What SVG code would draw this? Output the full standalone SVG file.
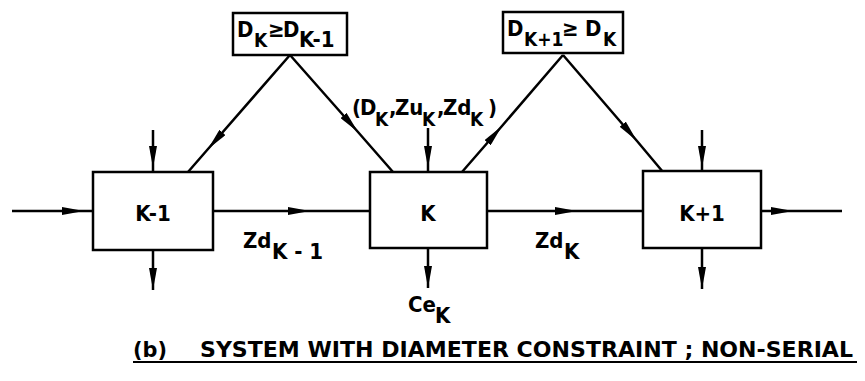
<svg xmlns="http://www.w3.org/2000/svg" width="865" height="381" viewBox="0 0 865 381">
<style>
.box{fill:#fff;stroke:#000;stroke-width:2.5}
.ln{fill:none;stroke:#000;stroke-width:2.5}
.t{font-family:"DejaVu Sans Condensed","DejaVu Sans","Liberation Sans",sans-serif;font-weight:bold;fill:#000;font-size:22px}
.s{font-size:19px}
.mid{marker-mid:url(#ah)}
.end{marker-end:url(#ah)}
</style>
<defs>
<marker id="ah" markerUnits="userSpaceOnUse" viewBox="0 0 22 8" refX="22" refY="4" markerWidth="22" markerHeight="8" orient="auto">
<path d="M0,0 L22,4 L0,8 z" fill="#000"/>
</marker>
</defs>
<rect width="865" height="381" fill="#fff"/>
<g id="connectors">
<path class="ln mid" d="M12,211 L84,211 L93,211"/>
<path class="ln mid" d="M213,211 L310,211 L370,211"/>
<path class="ln mid" d="M487,211 L577,211 L643,211"/>
<path class="ln mid" d="M761,211 L793,211 L842,211"/>
<path class="ln mid" d="M153,130 L153,168 L153,172"/>
<path class="ln mid" d="M428,128 L428,168 L428,172"/>
<path class="ln mid" d="M702,130 L702,168 L702,171"/>
<path class="ln end" d="M153,250 L153,290"/>
<path class="ln end" d="M428,248 L428,288"/>
<path class="ln end" d="M702,248 L702,289"/>
<path class="ln mid" d="M290,55 L208,149 L188,172"/>
<path class="ln mid" d="M290,55 L358,132 L393,172"/>
<path class="ln mid" d="M462,172 L502,126 L563,55"/>
<path class="ln mid" d="M563,55 L637,141 L663,172"/>
</g>
<g id="c1">
<rect class="box" x="233" y="13" width="114" height="42"/>
<text class="t"><tspan x="237" y="37">D</tspan><tspan class="s" x="254" y="47">K</tspan><tspan x="268" y="37">≥</tspan><tspan x="283" y="37">D</tspan><tspan x="299" y="47">K-1</tspan></text>
</g>
<g id="c2">
<rect class="box" x="503" y="12" width="120" height="41"/>
<text class="t"><tspan x="507" y="36">D</tspan><tspan class="s" x="524" y="46">K+1</tspan><tspan x="562" y="36">≥</tspan><tspan x="585" y="36">D</tspan><tspan class="s" x="603" y="46">K</tspan></text>
</g>
<g id="n1">
<rect class="box" x="93" y="172" width="120" height="78"/>
<text class="t" x="153" y="221" font-size="23" text-anchor="middle">K-1</text>
</g>
<g id="n2">
<rect class="box" x="370" y="172" width="117" height="76"/>
<text class="t" x="428" y="221" font-size="23" text-anchor="middle">K</text>
</g>
<g id="n3">
<rect class="box" x="643" y="171" width="118" height="77"/>
<text class="t" x="702" y="221" font-size="23" text-anchor="middle">K+1</text>
</g>
<g id="labels">
<text class="t"><tspan x="352" y="115">(</tspan><tspan x="360" y="115">D</tspan><tspan class="s" x="375" y="126">K</tspan><tspan x="389" y="115">,</tspan><tspan x="395" y="115">Zu</tspan><tspan class="s" x="422" y="126">K</tspan><tspan x="437" y="115">,</tspan><tspan x="443" y="115">Zd</tspan><tspan class="s" x="470" y="126">K</tspan><tspan x="488" y="115">)</tspan></text>
<text class="t"><tspan x="243" y="248">Zd</tspan><tspan x="272" y="259">K - 1</tspan></text>
<text class="t"><tspan x="535" y="248">Zd</tspan><tspan x="564" y="259">K</tspan></text>
<text class="t"><tspan x="408" y="312">Ce</tspan><tspan x="435" y="323">K</tspan></text>
<text class="t" x="133" y="357" font-size="21" textLength="34" lengthAdjust="spacingAndGlyphs">(b)</text>
<text class="t" x="200" y="357" font-size="21" textLength="653" lengthAdjust="spacingAndGlyphs">SYSTEM WITH DIAMETER CONSTRAINT ; NON-SERIAL</text>
<line x1="133" y1="362" x2="857" y2="362" stroke="#000" stroke-width="2"/>
</g>
</svg>
